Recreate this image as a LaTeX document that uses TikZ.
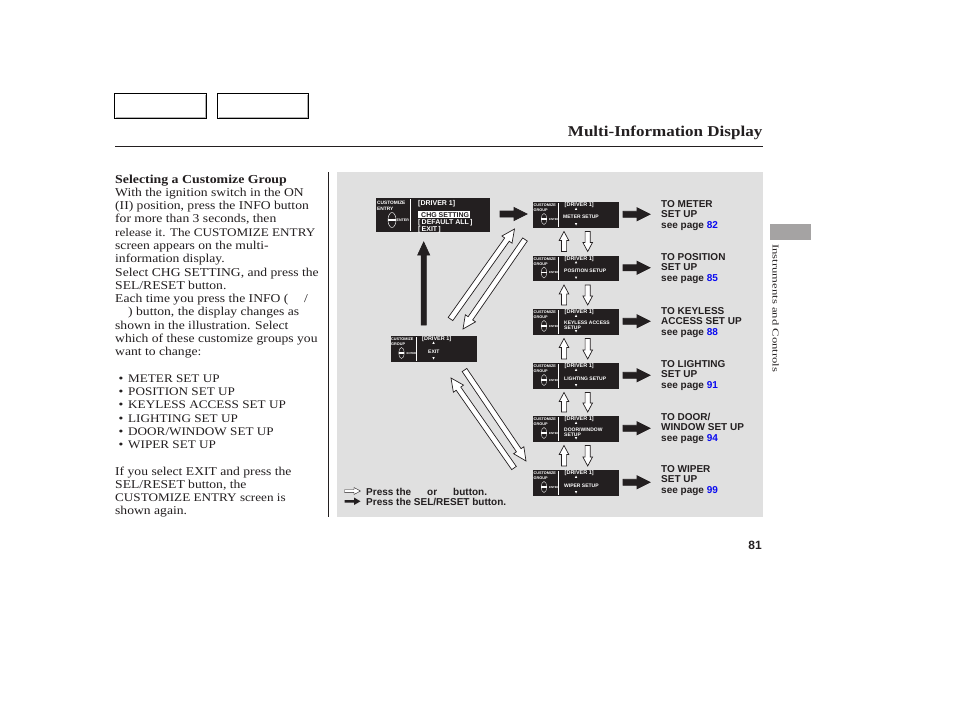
\documentclass[tikz,border=0pt]{standalone}
\usepackage{fontspec}
\usetikzlibrary{calc}
\setmainfont[FakeStretch=1.135]{Liberation Serif}
\newfontfamily\hv{Liberation Sans}
\definecolor{panel}{HTML}{E0E0E0}
\definecolor{tabgray}{HTML}{A5A3A3}
\definecolor{ink}{HTML}{231F20}
\definecolor{lnk}{HTML}{0A0AF0}
\tikzset{
  bodyline/.style={anchor=base west,inner sep=0pt,text=ink,font=\fontsize{12}{14}\selectfont},
  capsline/.style={anchor=base west,inner sep=0pt,text=ink,font=\fontsize{11.6}{14}\selectfont},
  noteline/.style={anchor=base west,inner sep=0pt,text=ink,font=\hv\bfseries\fontsize{10}{12}\selectfont},
  screen/.style={anchor=north west,fill=ink,draw=none,inner sep=0pt,outer sep=0pt},
  scrtiny/.style={anchor=base west,inner sep=0pt,text=white,font=\hv\fontsize{4.6}{5}\selectfont},
  scrhead/.style={anchor=base west,inner sep=0pt,text=white,font=\hv\bfseries\fontsize{5.5}{6}\selectfont},
  scrlab/.style={anchor=base west,inner sep=0pt,text=white,font=\hv\bfseries\fontsize{5}{6}\selectfont},
  bigtext/.style={anchor=base west,inner sep=0pt,text=white,font=\hv\bfseries\fontsize{7}{8}\selectfont},
  navbutton/.style={anchor=north west,draw=black,line width=1pt,fill=white,inner sep=0pt,outer sep=0pt,minimum width=92pt,minimum height=24.5pt},
}
% block arrow: start, tip, shaft half width, head half width, head length, fill, name
\newcommand\blockarrow[7]{%
  \coordinate (#7n) at ($(#2)!#5pt!(#1)$);
  \draw[ink,line width=.7pt,fill=#6,line join=miter]
    ($(#1)!#3pt!90:(#2)$) -- ($(#7n)!#3pt!-90:(#1)$) -- ($(#7n)!#4pt!-90:(#1)$) -- (#2)
    -- ($(#7n)!#4pt!90:(#1)$) -- ($(#7n)!#3pt!90:(#1)$) -- ($(#1)!#3pt!-90:(#2)$) -- cycle;
}
% small screen: name, left, top, label lines
\newcommand\smallscreen[4]{%
  \node[screen,minimum width=86pt,minimum height=25.5pt] (#1) at (#2,#3) {};
  \node[scrtiny,font=\hv\bfseries\fontsize{3.8}{4}\selectfont] (#1c) at ($(#1.north west)+(0.5,4.5)$) {CUSTOMIZE};
  \node[scrtiny,font=\hv\bfseries\fontsize{3.8}{4}\selectfont] (#1g) at ($(#1.north west)+(0.5,9.5)$) {GROUP};
  \draw[white,line width=.6pt] ($(#1.north west)+(25.7,1)$) -- ($(#1.north west)+(25.7,24.5)$);
  \node[scrhead] (#1d) at ($(#1.north west)+(31.5,4.5)$) {[DRIVER 1]};
  \fill[white] ($(#1.north west)+(43,5.5)$) -- ++(1.2,2.4) -- ++(-2.4,0) -- cycle;
  \fill[white] ($(#1.north west)+(43,23.5)$) -- ++(1.2,-2.4) -- ++(-2.4,0) -- cycle;
  \draw[white,line width=.35pt] ($(#1.north west)+(11,17)$) ellipse (2.8 and 5.5);
  \fill[white] ($(#1.north west)+(8.2,16.4)$) rectangle ++(5.6,1.2);
  \node[scrtiny,font=\hv\bfseries\fontsize{2.8}{3}\selectfont] (#1e) at ($(#1.north west)+(16,18)$) {ENTER};
  #4
}
\begin{document}
\begin{tikzpicture}[x=1pt,y=-1pt]
\useasboundingbox (0,0) rectangle (954,710);
\fill[white] (0,0) rectangle (954,710);

% header
\node[navbutton] (nav1) at (114.5,93.5) {};
\node[navbutton,minimum width=91pt] (nav2) at (217.5,93.5) {};
\draw[gray!60,line width=.8pt] ($(nav1.north east)+(-1,1)$) -- ($(nav1.south east)+(-1,-1)$) -- ($(nav1.south west)+(1,-1)$);
\draw[gray!60,line width=.8pt] ($(nav2.north east)+(-1,1)$) -- ($(nav2.south east)+(-1,-1)$) -- ($(nav2.south west)+(1,-1)$);
\node[anchor=base east,inner sep=0pt,text=ink,font=\bfseries\fontsize{15}{18}\selectfont] (title) at (762.5,136.5) {Multi-Information Display};
\draw[ink,line width=.8pt] (115,146.7) -- (763,146.7);
\draw[ink,line width=.8pt] (328.5,172) -- (328.5,517);

% body text
\node[bodyline,font=\bfseries\fontsize{12.2}{14}\selectfont] (t1) at (115,183) {Selecting a Customize Group};
\node[bodyline] (t2) at (115,196) {With the ignition switch in the ON};
\node[bodyline] (t3) at (115,209.5) {(II) position, press the INFO button};
\node[bodyline] (t4) at (115,222.5) {for more than 3 seconds, then};
\node[capsline] (t5) at (115,236) {release it. The CUSTOMIZE ENTRY};
\node[bodyline] (t6) at (115,249) {screen appears on the multi-};
\node[bodyline] (t7) at (115,262.5) {information display.};
\node[bodyline] (t8) at (115,276) {Select CHG SETTING, and press the};
\node[bodyline] (t9) at (115,289) {SEL/RESET button.};
\node[bodyline] (t10) at (115,302.5) {Each time you press the INFO (};
\node[bodyline] (t10b) at (304,302.5) {/};
\node[bodyline] (t11) at (128,315.5) {) button, the display changes as};
\node[bodyline] (t12) at (115,329) {shown in the illustration. Select};
\node[bodyline] (t13) at (115,342) {which of these customize groups you};
\node[bodyline] (t14) at (115,355.5) {want to change:};
\foreach \n/\yy/\tx in {a/382/{METER SET UP},b/395.5/{POSITION SET UP},c/408.5/{KEYLESS ACCESS SET UP},d/422/{LIGHTING SET UP},e/435/{DOOR/WINDOW SET UP},f/448.5/{WIPER SET UP}}{
  \node[bodyline] (bu\n) at (118.5,\yy) {•};
  \node[capsline] (li\n) at (128,\yy) {\tx};
}
\node[bodyline] (t15) at (115,475) {If you select EXIT and press the};
\node[bodyline] (t16) at (115,488) {SEL/RESET button, the};
\node[capsline] (t17) at (115,501.5) {CUSTOMIZE ENTRY screen is};
\node[bodyline] (t18) at (115,514.5) {shown again.};

% side tab and page number
\fill[tabgray] (770,224) rectangle (811,240);
\node[anchor=base west,rotate=-90,inner sep=0pt,text=ink,font=\fontsize{9}{10}\selectfont] (side) at (772.5,244) {\scalebox{1.24}[1]{Instruments and Controls}};
\node[anchor=base east,inner sep=0pt,text=ink,font=\hv\bfseries\fontsize{12}{14}\selectfont] (pageno) at (762,549) {81};

% panel
\fill[panel] (337,172) rectangle (763,517);

% big screen
\node[screen,minimum width=114pt,minimum height=34pt] (big) at (376,198) {};
\node[scrtiny,font=\hv\bfseries\fontsize{4.8}{5}\selectfont] (bigc) at (377,204) {CUSTOMIZE};
\node[scrtiny,font=\hv\bfseries\fontsize{4.8}{5}\selectfont] (bige) at (377,210.5) {ENTRY};
\draw[white,line width=.7pt] (410.3,199) -- (410.3,231);
\node[anchor=base west,inner sep=0pt,text=white,font=\hv\bfseries\fontsize{7}{8}\selectfont] (bigd) at (418,205) {[DRIVER 1]};
\fill[white] (418,211) rectangle (470,218);
\node[bigtext,text=ink] (bigs) at (421,217) {CHG SETTING};
\node[bigtext] (bigf) at (418,224.5) {[\,DEFAULT ALL\,]};
\node[bigtext] (bigx) at (418,231.5) {[\,EXIT\,]};
\draw[white,line width=.45pt] (392,220) ellipse (4 and 7.5);
\fill[white] (388,219) rectangle (396,221);
\node[scrtiny,font=\hv\bfseries\fontsize{3.6}{4}\selectfont] (bign) at (396.5,221.5) {ENTER};

% exit screen
\smallscreen{ex}{390.5}{336}{\node[scrlab] (exl) at (428,353) {EXIT};}

% setup screens
\smallscreen{s1}{533}{202}{\node[scrlab] (s1l) at (563,218.5) {METER SETUP};}
\smallscreen{s2}{533}{255.5}{\node[scrlab] (s2l) at (564,272) {POSITION SETUP};}
\smallscreen{s3}{533}{309}{\node[scrlab] (s3l) at (564,324) {KEYLESS ACCESS};\node[scrlab] (s3m) at (564,329.5) {SETUP};}
\smallscreen{s4}{533}{363}{\node[scrlab] (s4l) at (564,380) {LIGHTING SETUP};}
\smallscreen{s5}{533}{416}{\node[scrlab] (s5l) at (564,431) {DOOR/WINDOW};\node[scrlab] (s5m) at (564,436.5) {SETUP};}
\smallscreen{s6}{533}{470}{\node[scrlab] (s6l) at (564,487) {WIPER SETUP};}

% solid arrows
\coordinate (bo) at ($(big.east)+(10,-1)$);
\coordinate (bi) at ($(s1.west)+(-6,-.75)$);
\blockarrow{bo}{bi}{3}{6.5}{13}{ink}{hA}
\coordinate (xo) at ($(ex.north west)+(33.2,-11)$);
\coordinate (xi) at ($(big.south west)+(47.7,10)$);
\blockarrow{xo}{xi}{2.6}{6}{13}{ink}{hB}
\foreach \s in {1,...,6}{
  \coordinate (r\s a) at ($(s\s.east)+(4,-.5)$);
  \coordinate (r\s b) at ($(s\s.east)+(31,-.5)$);
  \blockarrow{r\s a}{r\s b}{3}{6.5}{13}{ink}{hr\s}
}

% white vertical arrows between screens
\foreach \u/\d in {1/2,2/3,3/4,4/5,5/6}{
  \coordinate (ua) at ($(s\d.north west)+(31,-4)$);
  \coordinate (ub) at ($(s\u.south west)+(31,4)$);
  \blockarrow{ua}{ub}{2.6}{4.8}{9}{white}{hu\u}
  \coordinate (da) at ($(s\u.south west)+(54.7,4)$);
  \coordinate (db) at ($(s\d.north west)+(54.7,-4)$);
  \blockarrow{da}{db}{2.6}{4.8}{9}{white}{hd\u}
}

% white diagonal arrows
\coordinate (d1a) at (450.5,319);
\coordinate (d1b) at (514.5,229);
\blockarrow{d1a}{d1b}{2.8}{6.2}{13}{white}{he1}
\coordinate (d2a) at (525,239.5);
\coordinate (d2b) at (463,329);
\blockarrow{d2a}{d2b}{2.8}{6.2}{13}{white}{he2}
\coordinate (d3a) at (464.5,370);
\coordinate (d3b) at (526,461);
\blockarrow{d3a}{d3b}{2.8}{6.2}{13}{white}{he3}
\coordinate (d4a) at (514,468);
\coordinate (d4b) at (451,378);
\blockarrow{d4a}{d4b}{2.8}{6.2}{13}{white}{he4}

% right-hand notes
\foreach \n/\yy/\la/\lb/\pg in {1/207.5/{TO METER}/{SET UP}/82,2/260.5/{TO POSITION}/{SET UP}/85,3/314/{TO KEYLESS}/{ACCESS SET UP}/88,4/367/{TO LIGHTING}/{SET UP}/91,5/420.5/{TO DOOR/}/{WINDOW SET UP}/94,6/472.5/{TO WIPER}/{SET UP}/99}{
  \node[noteline] (na\n) at (661,\yy) {\la};
  \node[noteline] (nb\n) at (661,\yy+10) {\lb};
  \node[noteline] (nc\n) at (661,\yy+21) {see page \textcolor{lnk}{\pg}};
}

% legend
\draw[ink,line width=.4pt,fill=white] (344.5,489.7) -- (354,489.7) -- (354,487.5) -- (360.5,491) -- (354,494.5) -- (354,492.3) -- (344.5,492.3) -- cycle;
\fill[ink] (344.5,500) -- (354,500) -- (354,497.5) -- (360.5,501.3) -- (354,505) -- (354,502.6) -- (344.5,502.6) -- cycle;
\node[noteline] (lg1) at (366,495) {Press the};
\node[noteline] (lg2) at (427,495) {or};
\node[noteline] (lg3) at (453,495) {button.};
\node[noteline] (lg4) at (366,505) {Press the SEL/RESET button.};
\end{tikzpicture}
\end{document}
